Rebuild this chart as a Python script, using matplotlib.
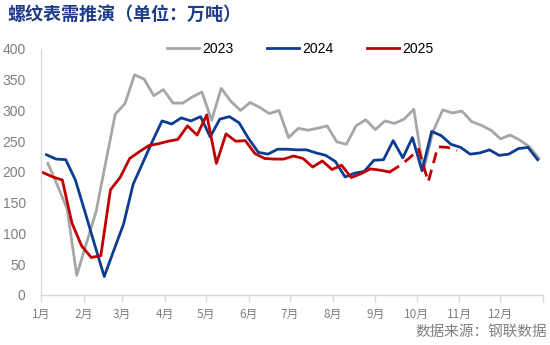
import numpy as np
import matplotlib
matplotlib.use("Agg")
import matplotlib.pyplot as plt

plt.rcParams['font.family'] = ['Noto Sans CJK SC', 'DejaVu Sans']

# weekly apparent demand of rebar (10k tonnes)
demand_2023 = [214, 178, 140, 32, 84, 135, 215, 294, 311, 358,
               351, 324, 334, 312, 312, 322, 330, 284, 336, 315,
               300, 313, 305, 295, 300, 256, 271, 268, 271, 275,
               249, 245, 275, 285, 269, 283, 279, 286, 302, 203,
               266, 301, 296, 299, 282, 276, 268, 254, 260, 252,
               241, 222]
demand_2024 = [228, 221, 220, 187, 135, 82, 30, 73, 115, 180,
               215, 250, 283, 278, 288, 283, 290, 257, 286, 290,
               280, 254, 232, 229, 237, 237, 236, 236, 231, 227,
               217, 192, 198, 201, 219, 220, 251, 223, 256, 202,
               266, 259, 245, 240, 229, 231, 236, 227, 229, 238,
               240, 220]
demand_2025 = [199, 192, 187, 117, 80, 61, 64, 171, 191, 222,
               233, 243, 246, 250, 253, 275, 260, 293, 214, 262,
               250, 251, 230, 222, 221, 221, 226, 222, 208, 218,
               204, 211, 191, 197, 205, 203, 200]
# projected weeks for 2025 (dashed)
forecast_2025 = [200, 210, 222, 237, 184, 241, 240, 235]

month_labels = ['1月', '2月', '3月', '4月', '5月', '6月',
                '7月', '8月', '9月', '10月', '11月', '12月']
month_start = [0, 31, 59, 90, 120, 151, 181, 212, 243, 273, 304, 334, 365]

# day-of-year positions of the weekly observations
x23 = 5 + 7 * np.arange(len(demand_2023))
x24 = 4 + 7 * np.arange(len(demand_2024))
x25 = 1.5 + 7 * np.arange(len(demand_2025))
x25f = x25[-1] + 7 * np.arange(len(forecast_2025))

c23, c24, c25 = '#A6A6A6', '#0B3D91', '#C00000'

fig = plt.figure(figsize=(5.5, 3.45), dpi=100)
ax = fig.add_axes([0.0745, 0.145, 0.913, 0.713])

ax.plot(x23, demand_2023, color=c23, lw=2.0, label='2023')
ax.plot(x24, demand_2024, color=c24, lw=2.0, label='2024')
ax.plot(x25, demand_2025, color=c25, lw=2.0, label='2025')
ax.plot(x25f, forecast_2025, color=c25, lw=2.0, ls=(0, (4, 2.5)))

ax.set_xlim(0, 365)
ax.set_ylim(0, 400)
ax.set_yticks(np.arange(0, 401, 50))
ax.set_xticks(month_start)
ax.set_xticklabels(month_labels + [''])

for s in ['top', 'right']:
    ax.spines[s].set_visible(False)
for s in ['left', 'bottom']:
    ax.spines[s].set_color('#D9D9D9')
    ax.spines[s].set_linewidth(1.0)

ax.tick_params(axis='y', length=0, pad=11, labelsize=10, labelcolor='#7F7F7F')
ax.tick_params(axis='x', length=5, width=1.0, color='#D9D9D9', pad=4,
               labelsize=8.5, labelcolor='#7F7F7F')
for t in ax.get_yticklabels():
    t.set_family(['Liberation Sans', 'DejaVu Sans'])

ax.legend(loc='center', bbox_to_anchor=(0.517, 1.0), ncol=3, frameon=False,
          fontsize=10, handlelength=2.3, handletextpad=0.25,
          columnspacing=2.4, prop={'family': ['Liberation Sans'], 'size': 10})

fig.text(0.013, 0.958, '螺纹表需推演（单位：万吨）', fontsize=13, fontweight='bold',
         color='#1F3C88', ha='left', va='center')
fig.text(0.995, 0.039, '数据来源：钢联数据', fontsize=10.5, color='#808080',
         ha='right', va='center')

fig.savefig('out.png', dpi=100)
